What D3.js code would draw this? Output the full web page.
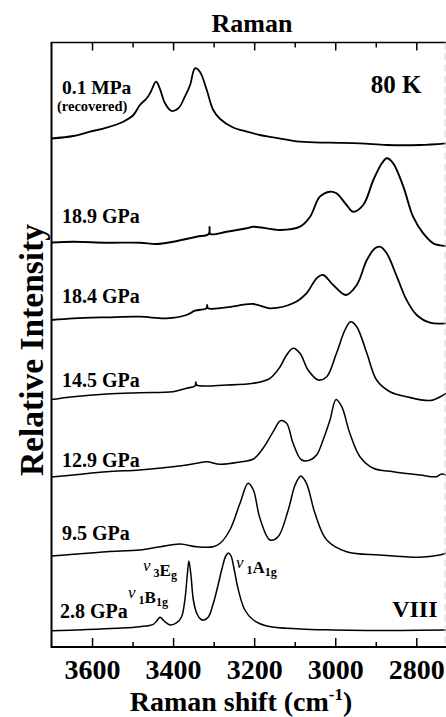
<!DOCTYPE html>
<html>
<head>
<meta charset="utf-8">
<script src="https://cdn.jsdelivr.net/npm/d3@7"></script>
<style>
  html, body { margin: 0; padding: 0; background: #fff; }
  svg { display: block; }
  svg text { font-family: "Liberation Serif", "DejaVu Serif", serif; font-weight: bold; fill: #000; }
</style>
</head>
<body>
<script>
// Pressure of each spectrum, top to bottom
const pressures = ["0.1 MPa", "18.9 GPa", "18.4 GPa", "14.5 GPa", "12.9 GPa", "9.5 GPa", "2.8 GPa"];
// Vertical offset of each spectrum (relative intensity units)
const offsets = [502, 402, 325, 248, 171, 91, 17];

// Spectra: [Raman shift (cm-1), relative intensity above the offset]
const spec_0p1MPa = [[3700,6.5],[3646,9],[3605,13.3],[3564,17.3],[3523,23.3],[3498,30],[3482,40],[3465,46.7],[3455,53.3],[3442,63.3],[3433,56.7],[3420,41.7],[3404,34],[3387,36.7],[3371,48.3],[3358,60],[3346,76.7],[3334,73.3],[3317,55],[3301,35],[3284,26],[3252,17.5],[3218,13.3],[3186,10],[3153,7.7],[3087,3.3],[3013,2.3],[2939,1.7],[2873,0],[2791,0],[2727,1.7]];
const spec_18p9GPa = [[3700,2.5],[3646,3.3],[3564,2.3],[3482,2.3],[3441,1],[3400,3.3],[3342,8.3],[3312,11],[3310,18],[3308,11],[3268,13.3],[3219,16.7],[3202,18.3],[3136,15],[3087,18.3],[3062,28.3],[3038,48.3],[3013,53.3],[2997,51.7],[2972,40],[2956,33.3],[2931,40],[2906,65],[2885,81.7],[2873,86.7],[2857,81.7],[2832,58.3],[2808,28.3],[2783,11.7],[2758,1.7],[2727,-1]];
const spec_18p4GPa = [[3700,2],[3646,3.7],[3564,4.7],[3482,5.3],[3416,3.7],[3367,7],[3346,11.3],[3318,13.7],[3316,17],[3314,13.7],[3268,14.7],[3202,18],[3161,13.7],[3104,18.7],[3071,28.7],[3046,43.7],[3030,47],[3005,37],[2974,27],[2947,37],[2922,62],[2902,73.7],[2890,75.3],[2873,68.7],[2848,45.3],[2824,22],[2799,7],[2766,-0.7],[2727,-1.3]];
const spec_14p5GPa = [[3700,-0.5],[3646,2.3],[3564,5],[3482,6.3],[3400,7.3],[3367,10.7],[3346,13],[3344,17],[3342,14],[3268,14],[3202,15.7],[3161,20.7],[3136,32.3],[3120,44],[3104,50.7],[3087,45.7],[3067,29],[3042,19],[3021,22.3],[2997,45.7],[2976,69],[2962,77.3],[2947,72.3],[2922,45.7],[2898,19],[2865,7.3],[2824,2.3],[2766,-1.5],[2742,2],[2727,5.7]];
const spec_12p9GPa = [[3700,-1],[3646,1],[3564,4.3],[3482,6],[3400,9.3],[3342,12.7],[3317,14.3],[3284,11.7],[3235,14],[3202,17],[3178,27.7],[3153,44.3],[3135,55.3],[3120,52.7],[3104,32.7],[3083,16],[3062,16],[3046,21],[3030,36],[3013,56],[2998,76.5],[2984,69.3],[2964,42.7],[2939,19.3],[2906,7.7],[2857,4.3],[2791,1],[2750,-0.7],[2738,2],[2727,1]];
const spec_9p5GPa = [[3700,0],[3646,1.7],[3564,4.3],[3482,6],[3432,9.3],[3383,12],[3342,9.3],[3301,9.3],[3284,12.7],[3260,26],[3235,52.7],[3215,72.7],[3202,66],[3186,38],[3161,16],[3141,19.3],[3116,46],[3099,71],[3085,80],[3071,72.7],[3050,42.7],[3021,16],[2972,4.3],[2890,1],[2791,-1.3],[2742,1],[2727,2.7]];
const spec_2p8GPa = [[3700,-0.7],[3622,0.3],[3539,1.7],[3482,3.3],[3449,5.7],[3440,9.3],[3432,12.7],[3422,9],[3407,5],[3391,7.3],[3379,13.3],[3371,30],[3365,55],[3361,69],[3356,55],[3350,30],[3341,16],[3331,10.5],[3324,10],[3313,13],[3302,25],[3289,45],[3279,62],[3270,74],[3263,77],[3257,74],[3250,62],[3239,40],[3223,20],[3202,10],[3169,4],[3087,1],[3005,0],[2922,-0.5],[2840,-0.5],[2727,0]];

const spectra = [spec_0p1MPa, spec_18p9GPa, spec_18p4GPa, spec_14p5GPa, spec_12p9GPa, spec_9p5GPa, spec_2p8GPa];
// Noisier traces look heavier
const strokeWidths = [1.8, 1.9, 1.8, 1.6, 1.5, 1.5, 1.5];

// Axis ticks (cm-1)
const majorTicks = [3600, 3400, 3200, 3000, 2800];
const minorTicks = [3500, 3300, 3100, 2900];

const W = 446, H = 717;
const plotLeft = 51.5, plotRight = 445.9, plotTop = 42.5, plotBottom = 647;

const svg = d3.select("body").append("svg").attr("width", W).attr("height", H);
svg.append("rect").attr("width", W).attr("height", H).attr("fill", "#fff");

const x = d3.scaleLinear().domain([3700, 2727]).range([plotLeft, plotRight]);
const y = d3.scaleLinear().domain([0, 604.5]).range([plotBottom, plotTop]);

svg.append("clipPath").attr("id", "plot-clip")
  .append("rect").attr("x", plotLeft).attr("y", plotTop).attr("width", W - plotLeft).attr("height", plotBottom - plotTop);

// Spectra
const line = d3.line()
  .x(d => x(d[0]))
  .y(d => d[1])
  .curve(d3.curveCatmullRom.alpha(0.5));

const traces = svg.append("g").attr("clip-path", "url(#plot-clip)");
spectra.forEach((s, i) => {
  traces.append("path")
    .attr("d", line(s.map(p => [p[0], y(offsets[i] + p[1])])))
    .attr("fill", "none")
    .attr("stroke", "#000")
    .attr("stroke-width", strokeWidths[i])
    .attr("stroke-linejoin", "round");
});

// Ticks on bottom and top, pointing inward
function tickAxis(gen, vals, size, ypos, labels) {
  const g = svg.append("g").attr("transform", `translate(0,${ypos})`)
    .call(gen(x).tickValues(vals).tickSize(size).tickFormat(labels ? d3.format("d") : ""));
  g.select(".domain").remove();
  g.selectAll(".tick line").attr("stroke", "#000").attr("stroke-width", 1.5);
  g.attr("font-family", null).attr("font-size", null);
  return g;
}
const xb = tickAxis(d3.axisBottom, majorTicks, -9, plotBottom, true);
xb.selectAll(".tick text")
  .attr("dy", null).attr("y", 32)
  .style("font-size", "28px");
tickAxis(d3.axisBottom, minorTicks, -5, plotBottom, false);
tickAxis(d3.axisTop, majorTicks, -8, plotTop, false);
tickAxis(d3.axisTop, minorTicks, -5, plotTop, false);

// Frame
svg.append("line").attr("x1", plotLeft).attr("x2", plotLeft).attr("y1", plotTop - 0.5).attr("y2", plotBottom + 1)
  .attr("stroke", "#000").attr("stroke-width", 2);
svg.append("line").attr("x1", plotLeft).attr("x2", W).attr("y1", plotTop).attr("y2", plotTop)
  .attr("stroke", "#000").attr("stroke-width", 1.6);
svg.append("line").attr("x1", plotLeft).attr("x2", W).attr("y1", plotBottom).attr("y2", plotBottom)
  .attr("stroke", "#000").attr("stroke-width", 2);
svg.append("line").attr("x1", 445).attr("x2", 445).attr("y1", plotTop).attr("y2", plotBottom)
  .attr("stroke", "#d4d4d4").attr("stroke-width", 1).attr("stroke-dasharray", "7,4");

// Titles
svg.append("text").attr("x", 252).attr("y", 32).attr("text-anchor", "middle")
  .style("font-size", "26px").text("Raman");

const xt = svg.append("text").attr("x", 241).attr("y", 711).attr("text-anchor", "middle")
  .style("font-size", "28px");
xt.append("tspan").text("Raman shift (cm");
xt.append("tspan").attr("dy", -11).style("font-size", "17px").text("-1");
xt.append("tspan").attr("dy", 11).text(")");

svg.append("text").attr("transform", "translate(43,350) rotate(-90)")
  .attr("text-anchor", "middle").style("font-size", "33.5px").text("Relative Intensity");

// Pressure labels
const labelY = [94, 223, 303, 387, 467, 540, 618];
const labelX = [62, 62, 62, 62, 62, 62, 60];
const labelSize = [19.5, 20, 20, 20, 20, 20, 20];
pressures.forEach((p, i) => {
  svg.append("text").attr("x", labelX[i]).attr("y", labelY[i])
    .style("font-size", labelSize[i] + "px").text(p);
});
svg.append("text").attr("x", 57).attr("y", 111)
  .style("font-size", "14.5px").text("(recovered)");

svg.append("text").attr("x", 421.5).attr("y", 93).attr("text-anchor", "end")
  .style("font-size", "25px").text("80 K");
svg.append("text").attr("x", 437.5).attr("y", 617).attr("text-anchor", "end")
  .style("font-size", "24px").text("VIII");

// Mode assignments on the 2.8 GPa spectrum
const modes = [
  { nu: "ν", n: "1", sym: "B", sub: "1g", x: 128, y: 603 },
  { nu: "ν", n: "3", sym: "E", sub: "g", x: 143, y: 576 },
  { nu: "ν", n: "1", sym: "A", sub: "1g", x: 236, y: 573 }
];
modes.forEach(m => {
  const t = svg.append("text").attr("x", m.x).attr("y", m.y - 5).style("font-size", "17px");
  t.append("tspan").style("font-style", "italic").style("font-weight", "normal").text(m.nu);
  t.append("tspan").attr("dx", 3).attr("dy", 6).style("font-size", "12px").text(m.n);
  t.append("tspan").attr("dy", -1).text(m.sym);
  t.append("tspan").attr("dy", 3).style("font-size", "12px").text(m.sub);
});
</script>
</body>
</html>
